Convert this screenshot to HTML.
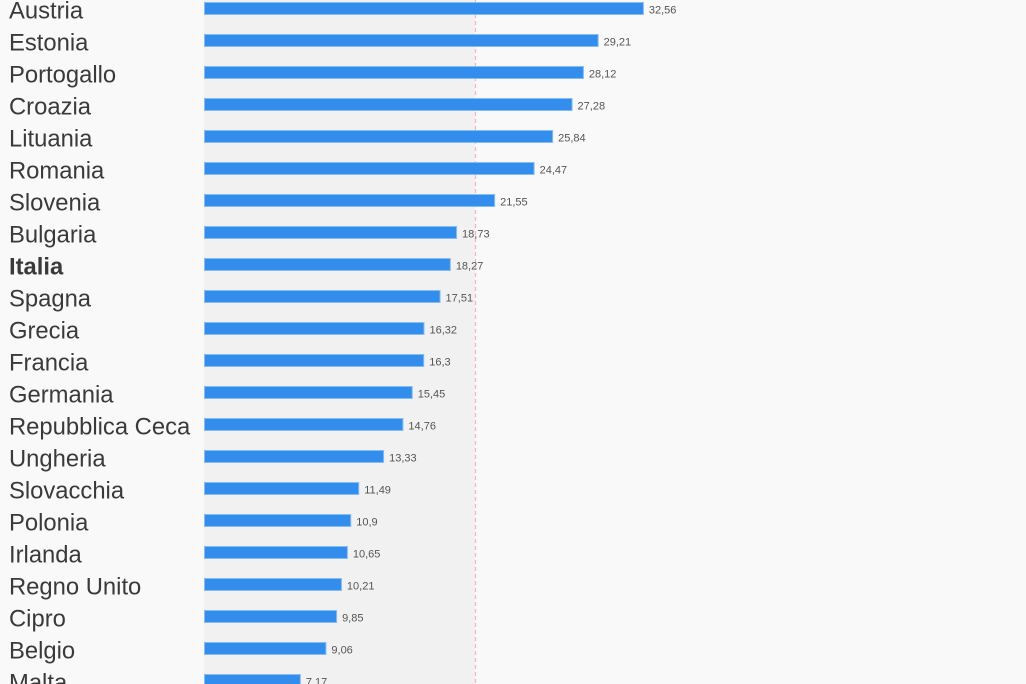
<!DOCTYPE html>
<html><head><meta charset="utf-8"><style>
html,body{margin:0;padding:0;background:#f9f9f9;}
svg{display:block;}
.l{font-family:"Liberation Sans",Arial,sans-serif;font-size:23.8px;fill:#3a3a3a;}
.v{font-family:"Liberation Sans",Arial,sans-serif;font-size:11px;fill:#555;}
</style></head><body>
<svg width="1026" height="684" viewBox="0 0 1026 684" xmlns="http://www.w3.org/2000/svg">
<rect x="0" y="0" width="1026" height="684" fill="#f9f9f9"/>
<rect x="204" y="0" width="271" height="684" fill="#f1f1f1"/>
<line x1="475.5" y1="0" x2="475.5" y2="684" stroke="#f7b6be" stroke-width="1.3" stroke-dasharray="4,3"/>
<g id="rows"></g>
</svg>
<script>
(function(){
var d=[["Austria",32.56],["Estonia",29.21],["Portogallo",28.12],["Croazia",27.28],["Lituania",25.84],["Romania",24.47],["Slovenia",21.55],["Bulgaria",18.73],["Italia",18.27],["Spagna",17.51],["Grecia",16.32],["Francia",16.3],["Germania",15.45],["Repubblica Ceca",14.76],["Ungheria",13.33],["Slovacchia",11.49],["Polonia",10.9],["Irlanda",10.65],["Regno Unito",10.21],["Cipro",9.85],["Belgio",9.06],["Malta",7.17]];
var g=document.getElementById("rows"),s="";
for(var i=0;i<d.length;i++){
 var ty=2+32*i,bw=d[i][1]*13.51,be=204+bw;
 s+='<rect x="204.5" y="'+(ty+0.5)+'" width="'+(bw-1)+'" height="12" fill="#338ded" stroke="#86bbf3" stroke-width="1"/>';
 s+='<text class="l" x="9" y="'+(18.5+32*i)+'"'+(d[i][0]=="Italia"?' font-weight="bold"':'')+'>'+d[i][0]+'</text>';
 s+='<text class="v" x="'+(be+5)+'" y="'+(13.5+32*i)+'">'+String(d[i][1]).replace(".",",")+'</text>';
}
g.innerHTML=s;
})();
</script>
</body></html>
